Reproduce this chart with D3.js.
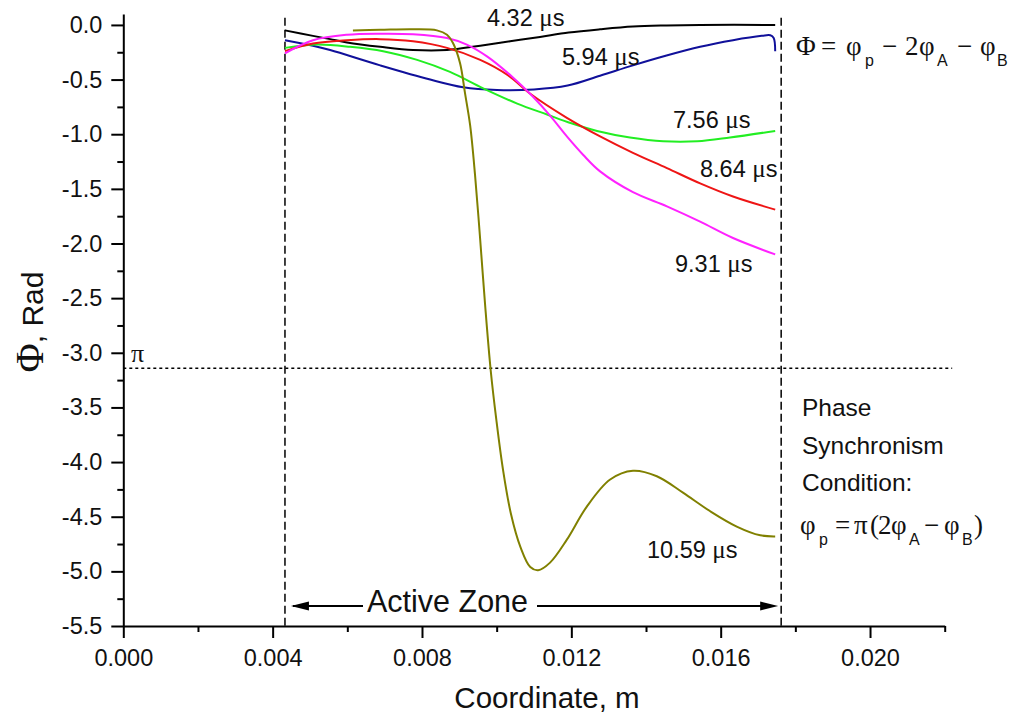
<!DOCTYPE html>
<html><head><meta charset="utf-8">
<script src="https://cdn.jsdelivr.net/npm/d3@7"></script>
<style>body{margin:0;background:#fff}svg{display:block}</style>
</head><body>
<svg id="c" width="1011" height="715"></svg>
<script>
// ---- data (x in millimetres -> converted to metres for the scale, y in radians) ----
const xTickValues = [0, 0.004, 0.008, 0.012, 0.016, 0.020];
const xMinorValues = [0.002, 0.006, 0.010, 0.014, 0.018, 0.022];
const yTickValues = [0, -0.5, -1, -1.5, -2, -2.5, -3, -3.5, -4, -4.5, -5, -5.5];
const yMinorValues = [-0.25, -0.75, -1.25, -1.75, -2.25, -2.75, -3.25, -3.75, -4.25, -4.75, -5.25];
const activeZone = [0.00433, 0.01762];
const piLevel = -Math.PI;

const t432 = [[4.33,-0.05],[5.08,-0.10],[5.54,-0.13],[5.99,-0.16],[6.88,-0.20],[7.76,-0.23],[8.67,-0.23],[9.56,-0.19],[10.36,-0.15],[11.16,-0.11],[11.93,-0.07],[12.77,-0.04],[13.65,-0.015],[14.55,-0.005],[15.45,0],[17.46,0]];
const t594 = [[4.33,-0.14],[5.08,-0.19],[5.54,-0.23],[6.88,-0.37],[8.22,-0.50],[9.10,-0.57],[10.01,-0.595],[11.0,-0.59],[11.9,-0.555],[12.77,-0.465],[13.65,-0.37],[14.55,-0.28],[15.45,-0.20],[16.33,-0.14],[17.1,-0.10],[17.33,-0.095],[17.42,-0.12],[17.46,-0.24]];
const t756 = [[4.33,-0.21],[5.18,-0.18],[6.07,-0.20],[6.96,-0.24],[7.87,-0.32],[8.75,-0.43],[9.64,-0.58],[10.55,-0.72],[11.35,-0.82],[12.0,-0.90],[12.69,-0.97],[13.57,-1.03],[14.46,-1.065],[15.37,-1.065],[16.25,-1.03],[17.46,-0.97]];
const t864 = [[4.33,-0.24],[5.08,-0.17],[5.99,-0.14],[6.88,-0.13],[7.76,-0.15],[8.67,-0.21],[9.56,-0.32],[10.3,-0.46],[10.9,-0.63],[11.88,-0.85],[12.77,-1.02],[13.65,-1.17],[14.56,-1.31],[15.45,-1.45],[16.33,-1.57],[17.46,-1.69]];
const t931 = [[4.33,-0.26],[5.08,-0.14],[5.99,-0.09],[6.88,-0.08],[7.76,-0.085],[8.67,-0.12],[9.2,-0.18],[9.75,-0.29],[10.4,-0.47],[10.98,-0.66],[11.43,-0.83],[11.88,-1.02],[12.32,-1.19],[12.77,-1.34],[13.65,-1.53],[14.56,-1.66],[15.45,-1.80],[16.33,-1.95],[17.46,-2.10]];
const t1059 = [[6.15,-0.05],[6.88,-0.045],[7.76,-0.04],[8.40,-0.05],[8.67,-0.09],[8.83,-0.165],[9.02,-0.35],[9.15,-0.62],[9.29,-0.92],[9.42,-1.37],[9.56,-1.97],[9.69,-2.56],[9.84,-3.16],[9.99,-3.61],[10.17,-4.07],[10.38,-4.47],[10.64,-4.78],[10.90,-4.96],[11.11,-4.99],[11.43,-4.92],[11.88,-4.71],[12.41,-4.41],[13.04,-4.16],[13.65,-4.08],[14.29,-4.13],[14.99,-4.28],[15.72,-4.45],[16.43,-4.59],[17.06,-4.67],[17.46,-4.68]];
const seriesNames = ["4.32", "5.94", "7.56", "8.64", "9.31", "10.59"];
const seriesData = [t432, t594, t756, t864, t931, t1059];
const seriesColors = ["#000000", "#10109a", "#22ee22", "#ee1515", "#ff22ff", "#808000"];
const labelAnchors = [[487,26],[562,65],[673,128],[700,177],[675,272],[647,558]];

const SANS = "'Liberation Sans', Arial, Helvetica, sans-serif";
const SERIF = "'Liberation Serif', 'Times New Roman', serif";

const svg = d3.select("#c");
const x = d3.scaleLinear().domain([0, 0.022]).range([123.3, 944.7]);
const y = d3.scaleLinear().domain([-5.5, 0.1]).range([626, 14]);

// reference lines
svg.append("line").attr("x1", x(0)).attr("x2", x(0.0222)).attr("y1", y(piLevel)).attr("y2", y(piLevel))
  .attr("stroke", "#000").attr("stroke-width", 1.5).attr("stroke-dasharray", "3,3");
activeZone.forEach(v => {
  svg.append("line").attr("x1", x(v)).attr("x2", x(v)).attr("y1", y(0.065)).attr("y2", y(-5.5))
    .attr("stroke", "#000").attr("stroke-width", 1.5).attr("stroke-dasharray", "8,4");
});

// curves
const line = d3.line().x(d => x(d[0] / 1000)).y(d => y(d[1])).curve(d3.curveCatmullRom.alpha(0.5));
seriesData.forEach((s, i) => {
  svg.append("path").attr("d", line(s)).attr("fill", "none")
    .attr("stroke", seriesColors[i]).attr("stroke-width", 2);
});

// axes
const fmtY = d => (d === 0 ? "0.0" : d.toFixed(1));
const fmtX = d => d.toFixed(3);
svg.append("g").attr("transform", `translate(0,${y(-5.5)})`)
  .call(d3.axisBottom(x).tickValues(xTickValues).tickFormat(fmtX).tickSize(12).tickPadding(11).tickSizeOuter(0));
svg.append("g").attr("transform", `translate(0,${y(-5.5)})`)
  .call(d3.axisBottom(x).tickValues(xMinorValues).tickFormat("").tickSize(6).tickSizeOuter(0))
  .select(".domain").remove();
svg.append("g").attr("transform", `translate(${x(0)},0)`)
  .call(d3.axisLeft(y).tickValues(yTickValues).tickFormat(fmtY).tickSize(12).tickPadding(9).tickSizeOuter(0));
svg.append("g").attr("transform", `translate(${x(0)},0)`)
  .call(d3.axisLeft(y).tickValues(yMinorValues).tickFormat("").tickSize(6).tickSizeOuter(0))
  .select(".domain").remove();
svg.selectAll(".domain").attr("stroke-width", 2);
svg.selectAll(".tick line").attr("stroke-width", 2);
svg.selectAll(".tick text").attr("font-family", SANS).attr("font-size", 23.5).attr("fill", "#111");

// axis titles
svg.append("text").attr("x", 547).attr("y", 708).attr("text-anchor", "middle")
  .attr("font-family", SANS).attr("font-size", 29.5).attr("fill", "#111").text("Coordinate, m");
const yt = svg.append("text").attr("transform", "translate(43,322) rotate(-90)")
  .attr("text-anchor", "middle").attr("fill", "#111");
yt.append("tspan").attr("font-family", SERIF).attr("font-size", 40).text("Φ");
yt.append("tspan").attr("font-family", SANS).attr("font-size", 30).text(", Rad");

// pi label
svg.append("text").attr("x", 131).attr("y", 362).attr("font-family", SERIF).attr("font-size", 26)
  .attr("fill", "#111").text("π");

// curve labels
seriesNames.forEach((n, i) => {
  const t = svg.append("text").attr("x", labelAnchors[i][0]).attr("y", labelAnchors[i][1])
    .attr("font-family", SANS).attr("font-size", 23.5).attr("fill", "#111");
  t.append("tspan").text(n + " ");
  t.append("tspan").attr("font-family", SERIF).attr("font-size", 25).text("μ");
  t.append("tspan").text("s");
});

// Active zone arrow
const arrowY = 606;
const az = svg.append("g");
az.append("line").attr("x1", x(activeZone[0]) + 8).attr("x2", 363).attr("y1", arrowY).attr("y2", arrowY)
  .attr("stroke", "#000").attr("stroke-width", 1.8);
az.append("line").attr("x1", 537).attr("x2", x(activeZone[1]) - 8).attr("y1", arrowY).attr("y2", arrowY)
  .attr("stroke", "#000").attr("stroke-width", 1.8);
const lt = x(activeZone[0]) + 6, rt = x(activeZone[1]) - 3;
az.append("path").attr("d", `M${lt},${arrowY} L${lt + 18},${arrowY - 4.5} L${lt + 18},${arrowY + 4.5} Z`).attr("fill", "#000");
az.append("path").attr("d", `M${rt},${arrowY} L${rt - 18},${arrowY - 4.5} L${rt - 18},${arrowY + 4.5} Z`).attr("fill", "#000");
az.append("text").attr("x", 367).attr("y", 612).attr("font-family", SANS).attr("font-size", 30.5)
  .attr("fill", "#111").text("Active Zone");

// equations built from glyph parts
function eq(parts, base, subBase) {
  const t = svg.append("text").attr("fill", "#111");
  parts.forEach(p => {
    t.append("tspan").attr("x", p[0]).attr("y", p[2] ? subBase : base)
      .attr("font-family", p[2] ? SANS : SERIF).attr("font-size", p[2] ? 16 : 27).text(p[1]);
  });
}
eq([[796,"Φ"],[821,"="],[846,"φ"],[865,"p",1],[882,"−"],[905,"2"],[919,"φ"],[937,"A",1],[957,"−"],[980,"φ"],[997,"B",1]], 55, 66);

// right text block
["Phase", "Synchronism", "Condition:"].forEach((s, i) => {
  svg.append("text").attr("x", 802).attr("y", 416 + i * 37.5).attr("font-family", SANS)
    .attr("font-size", 24.5).attr("fill", "#111").text(s);
});
eq([[800,"φ"],[819,"p",1],[835,"="],[854,"π"],[870,"("],[878,"2"],[891,"φ"],[909,"A",1],[924,"−"],[944,"φ"],[962,"B",1],[974,")"]], 534, 545);
</script>
</body></html>
